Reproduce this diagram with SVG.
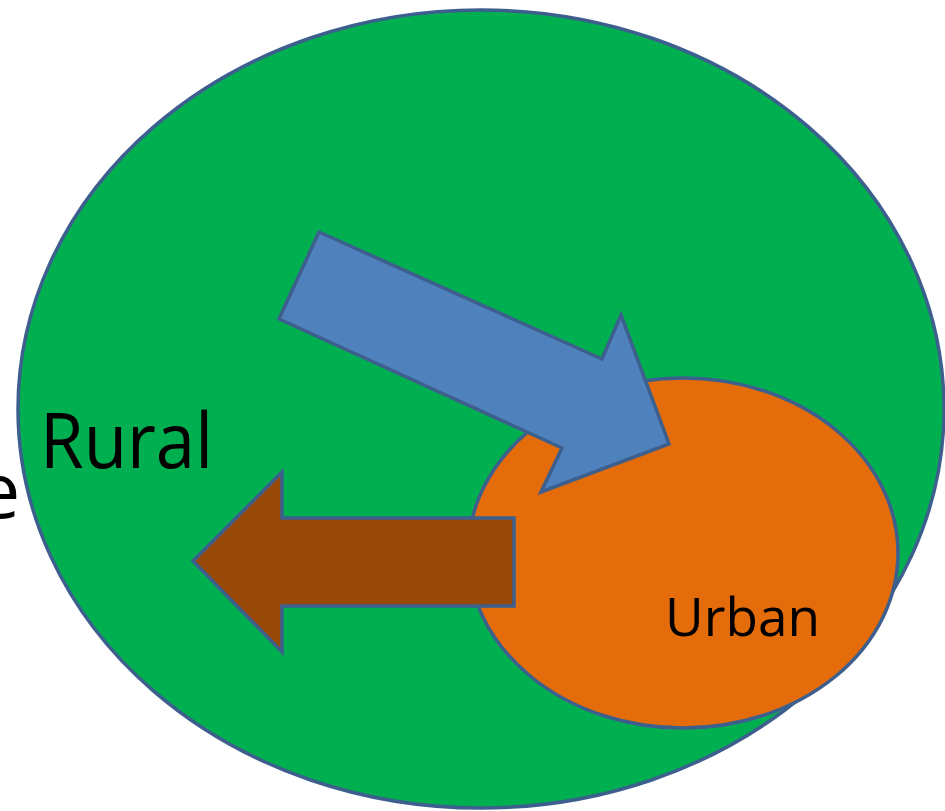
<svg xmlns="http://www.w3.org/2000/svg" width="945" height="811" viewBox="0 0 945 811">
<style>
.sh{stroke:#3d5f8e;stroke-width:3.5;stroke-linejoin:miter}
.t{font-family:"Open Sans","Noto Sans",sans-serif;fill:#000}
</style>
<rect width="945" height="811" fill="#fff"/>
<g id="rural">
<ellipse class="sh" cx="481" cy="409" rx="463" ry="399" fill="#00b050"/>
<text class="t" x="40" y="468" font-size="77" textLength="173" lengthAdjust="spacingAndGlyphs">Rural</text>
</g>
<text class="t" x="-23" y="518" font-size="77">e</text>
<g id="urban">
<ellipse class="sh" cx="683" cy="553" rx="215" ry="175" fill="#e46c0a"/>
<text class="t" x="665" y="636" font-size="53" textLength="155" lengthAdjust="spacingAndGlyphs">Urban</text>
</g>
<g id="connectors">
<polygon class="sh" fill="#4f81bd" points="319,232 602,359 621,315 669,444 541,492 562,448 279,319"/>
<polygon class="sh" fill="#984807" points="193,561 282,472 282,518 514,518 514,606 282,606 282,652"/>
</g>
</svg>
